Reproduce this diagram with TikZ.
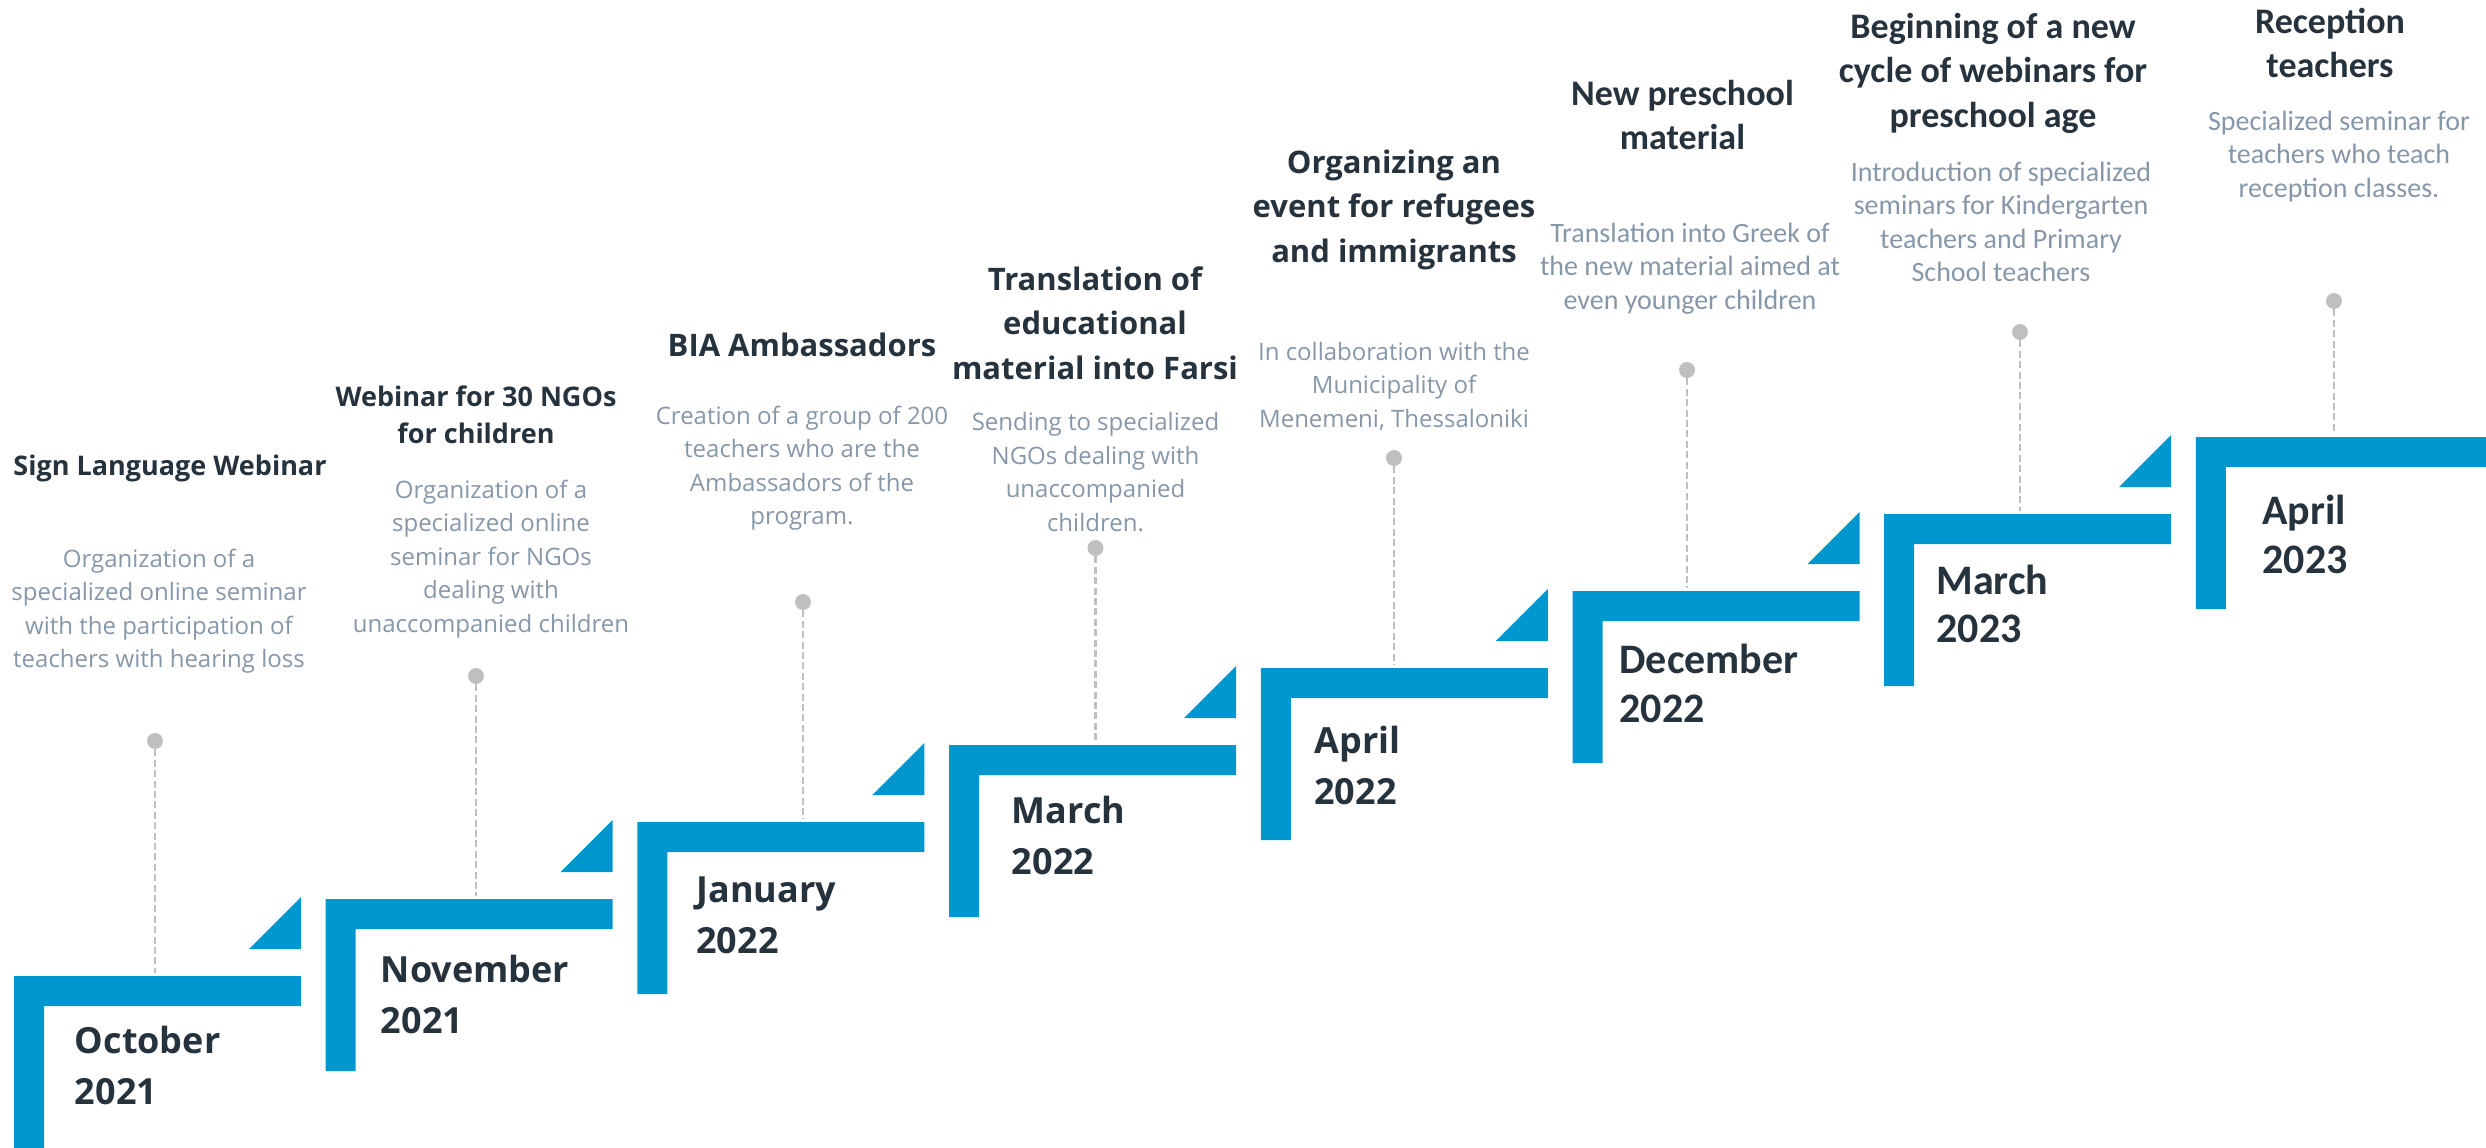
\documentclass[tikz,border=0pt]{standalone}
\usepackage{fontspec}
\setmainfont{Open Sans}
\newfontfamily\carl{Carlito}
\definecolor{stepblue}{RGB}{0,150,206}
\definecolor{titlec}{RGB}{38,50,60}
\definecolor{descc}{RGB}{134,151,168}
\definecolor{dotc}{RGB}{191,191,191}
\begin{document}
\begin{tikzpicture}[x=0.5pt,y=-0.5pt,
  ttlsmall/.style={align=center, inner sep=0, anchor=north, text=titlec, font=\fontsize{13.5}{18.5}\selectfont\bfseries},
  ttlos/.style={align=center, inner sep=0, anchor=north, text=titlec, font=\fontsize{15.5}{22.25}\selectfont\bfseries},
  ttlcb/.style={align=center, inner sep=0, anchor=north, text=titlec, font=\carl\fontsize{18}{22.25}\selectfont\bfseries},
  descos/.style={align=center, inner sep=0, anchor=north, text=descc, font=\fontsize{12}{16.75}\selectfont},
  desccb/.style={align=center, inner sep=0, anchor=north, text=descc, font=\carl\fontsize{14}{16.75}\selectfont},
  dateos/.style={align=left, inner sep=0, anchor=north west, text=titlec, font=\fontsize{18}{25.5}\selectfont\bfseries},
  datecb/.style={align=left, inner sep=0, anchor=north west, text=titlec, font=\carl\fontsize{21}{24.25}\selectfont\bfseries},
  dot/.style={circle, fill=dotc, draw=none, minimum size=8pt, inner sep=0},
  conn/.style={draw=dotc, line width=1.3pt, dash pattern=on 3.5pt off 1.7pt}
]
\useasboundingbox (0,0) rectangle (2486,1147);

% steps
\foreach \i in {0,...,6}{
  \pgfmathsetmacro\L{14+311.7*\i}
  \pgfmathsetmacro\T{976-77*\i}
  \fill[stepblue] (\L,\T) -- ++(287,0) -- ++(0,30) -- ++(-257,0) -- ++(0,142) -- ++(-30,0) -- cycle;
  \fill[stepblue] (\L+235,\T-27) -- (\L+287,\T-27) -- (\L+287,\T-79) -- cycle;
}
% last step (no triangle, runs to the right edge)
\fill[stepblue] (2195.9,437) -- (2486,437) -- (2486,467) -- (2225.9,467) -- (2225.9,609) -- (2195.9,609) -- cycle;

% dots and dashed connectors
\foreach \x/\y/\t [count=\n] in {155/741/976, 476/676/899, 803/602/822, 1095.5/548/745, 1394/458/668, 1687/370/591, 2020/332/514, 2334/301/437}{
  \coordinate (e\n) at (\x,\t-3);
  \node[dot] (d\n) at (\x,\y) {};
  \draw[conn] (d\n) -- (e\n);
}

% titles
\node[ttlsmall] (t1) at (170,449.1) {\strut Sign Language Webinar};
\node[ttlsmall] (t2) at (476,380.1) {\strut Webinar for 30 NGOs\\for children};
\node[ttlos] (t3) at (802,324.85) {\strut BIA Ambassadors};
\node[ttlos] (t4) at (1095,258.85) {\strut Translation of\\educational\\material into Farsi};
\node[ttlos] (t5) at (1394,141.85) {\strut Organizing an\\event for refugees\\and immigrants};
\node[ttlcb] (t6) at (1682.5,73.45) {\strut New preschool\\material};
\node[ttlcb] (t7) at (1993,6.85) {\strut Beginning of a new\\cycle of webinars for\\preschool age};
\node[ttlcb] (t8) at (2330,1.85) {\strut Reception\\teachers};

% descriptions
\node[descos] (s1) at (159,543.55) {\strut Organization of a\\specialized online seminar\\with the participation of\\teachers with hearing loss};
\node[descos] (s2) at (491,474.55) {\strut Organization of a\\specialized online\\seminar for NGOs\\dealing with\\unaccompanied children};
\node[descos] (s3) at (802,400.55) {\strut Creation of a group of 200\\teachers who are the\\Ambassadors of the\\program.};
\node[descos] (s4) at (1095.5,407.05) {\strut Sending to specialized\\NGOs dealing with\\unaccompanied\\children.};
\node[descos] (s5) at (1394,336.55) {\strut In collaboration with the\\Municipality of\\Menemeni, Thessaloniki};
\node[desccb] (s6) at (1690,218.55) {\strut Translation into Greek of\\the new material aimed at\\even younger children};
\node[desccb] (s7) at (2001,157.55) {\strut Introduction of specialized\\seminars for Kindergarten\\teachers and Primary\\School teachers};
\node[desccb] (s8) at (2339,106.55) {\strut Specialized seminar for\\teachers who teach\\reception classes.};

% dates
\node[dateos] (m1) at (74.5,1017.3) {\strut October\\2021};
\node[dateos] (m2) at (380.5,946.3) {\strut November\\2021};
\node[dateos] (m3) at (696,866.8) {\strut January\\2022};
\node[dateos] (m4) at (1011.5,787.3) {\strut March\\2022};
\node[dateos] (m5) at (1314,717.3) {\strut April\\2022};
\node[datecb] (m6) at (1619,639.55) {\strut December\\2022};
\node[datecb] (m7) at (1936,560.05) {\strut March\\2023};
\node[datecb] (m8) at (2262,490.55) {\strut April\\2023};
\end{tikzpicture}
\end{document}
